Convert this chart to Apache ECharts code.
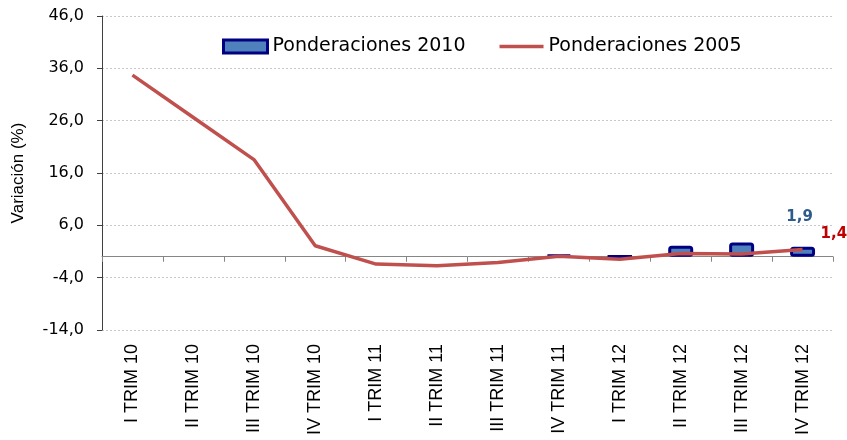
<!DOCTYPE html>
<html>
<head>
<meta charset="utf-8">
<script src="https://cdn.jsdelivr.net/npm/echarts@6/dist/echarts.min.js"></script>
<style>
  html, body { margin: 0; padding: 0; background: #fff; }
  #chart { width: 847px; height: 440px; }
</style>
</head>
<body>
<div id="chart"></div>
<script>
// trimestres
const categories = ['I TRIM 10', 'II TRIM 10', 'III TRIM 10', 'IV TRIM 10', 'I TRIM 11', 'II TRIM 11',
  'III TRIM 11', 'IV TRIM 11', 'I TRIM 12', 'II TRIM 12', 'III TRIM 12', 'IV TRIM 12']
// Ponderaciones 2010 (barras)
const pond2010 = [null, null, null, null, null, null, null, 0.4, 0.1, 2.1, 2.7, 1.9]
// Ponderaciones 2005 (línea)
const pond2005 = [34.7, 26.6, 18.5, 2.1, -1.4, -1.7, -1.1, 0.1, -0.5, 0.6, 0.5, 1.4]
const yMin = -14
const yMax = 46
const yStep = 10

const fmt = (v) => v.toFixed(1).replace('.', ',')
const last = categories.length - 1

const chart = echarts.init(document.getElementById('chart'))

chart.setOption({
  animation: false,
  backgroundColor: '#fff',
  grid: { left: 102, right: 14, top: 16, bottom: 110 },
  legend: {
    left: 222,
    top: 37,
    padding: 0,
    itemWidth: 44,
    itemHeight: 13,
    itemGap: 34,
    textStyle: { fontFamily: 'DejaVu Sans', fontSize: 19, color: '#000' },
    data: [
      {
        name: 'Ponderaciones 2010',
        icon: 'rect',
        itemStyle: { color: '#4f81bd', borderColor: '#000080', borderWidth: 3 },
      },
      {
        name: 'Ponderaciones 2005',
        icon: 'path://M0,0H44V3.5H0Z',
        itemStyle: { color: '#c0504d', borderWidth: 0 },
      },
    ],
  },
  xAxis: [
    {
      type: 'category',
      data: categories,
      axisLine: { onZero: true, lineStyle: { color: '#868686', width: 1 } },
      axisTick: { show: true, interval: 0, length: 5, lineStyle: { color: '#868686' } },
      axisLabel: { show: false },
    },
    {
      type: 'category',
      data: categories,
      position: 'bottom',
      axisLine: { show: false, onZero: false },
      axisTick: { show: false },
      axisLabel: {
        rotate: 90,
        interval: 0,
        margin: 14,
        fontFamily: 'Liberation Sans',
        fontSize: 18,
        color: '#000',
      },
    },
  ],
  yAxis: {
    type: 'value',
    min: yMin,
    max: yMax,
    interval: yStep,
    name: 'Variación (%)',
    nameLocation: 'middle',
    nameGap: 75,
    nameTextStyle: { fontFamily: 'Liberation Sans', fontSize: 17, color: '#000' },
    axisLine: { show: true, lineStyle: { color: '#404040' } },
    axisTick: { show: true, length: 5, lineStyle: { color: '#404040' } },
    axisLabel: {
      margin: 18,
      fontFamily: 'DejaVu Sans',
      fontSize: 16,
      color: '#000',
      formatter: fmt,
    },
    splitLine: { show: true, lineStyle: { color: '#c8c8c8', type: [2, 2] } },
  },
  series: [
    {
      name: 'Ponderaciones 2010',
      type: 'bar',
      xAxisIndex: 0,
      barWidth: 25,
      itemStyle: { color: '#4f81bd', borderColor: '#000080', borderWidth: 3, borderRadius: 2 },
      data: pond2010.map((v, i) => i === last
        ? {
            value: v,
            label: {
              show: true, position: 'top', distance: 22, offset: [-3, 0],
              formatter: (p) => fmt(p.value),
              fontFamily: 'DejaVu Sans', fontWeight: 'bold', fontSize: 15, color: '#2e5c8a',
            },
          }
        : v),
    },
    {
      name: 'Ponderaciones 2005',
      type: 'line',
      xAxisIndex: 0,
      symbol: 'circle',
      symbolSize: 0,
      lineStyle: { color: '#c0504d', width: 3.5 },
      itemStyle: { color: '#c0504d' },
      data: pond2005.map((v, i) => i === last
        ? {
            value: v,
            label: {
              show: true, position: 'right', distance: 18, offset: [0, -15],
              formatter: (p) => fmt(p.value),
              fontFamily: 'DejaVu Sans', fontWeight: 'bold', fontSize: 15, color: '#c00000',
            },
          }
        : v),
    },
  ],
})
</script>
</body>
</html>
